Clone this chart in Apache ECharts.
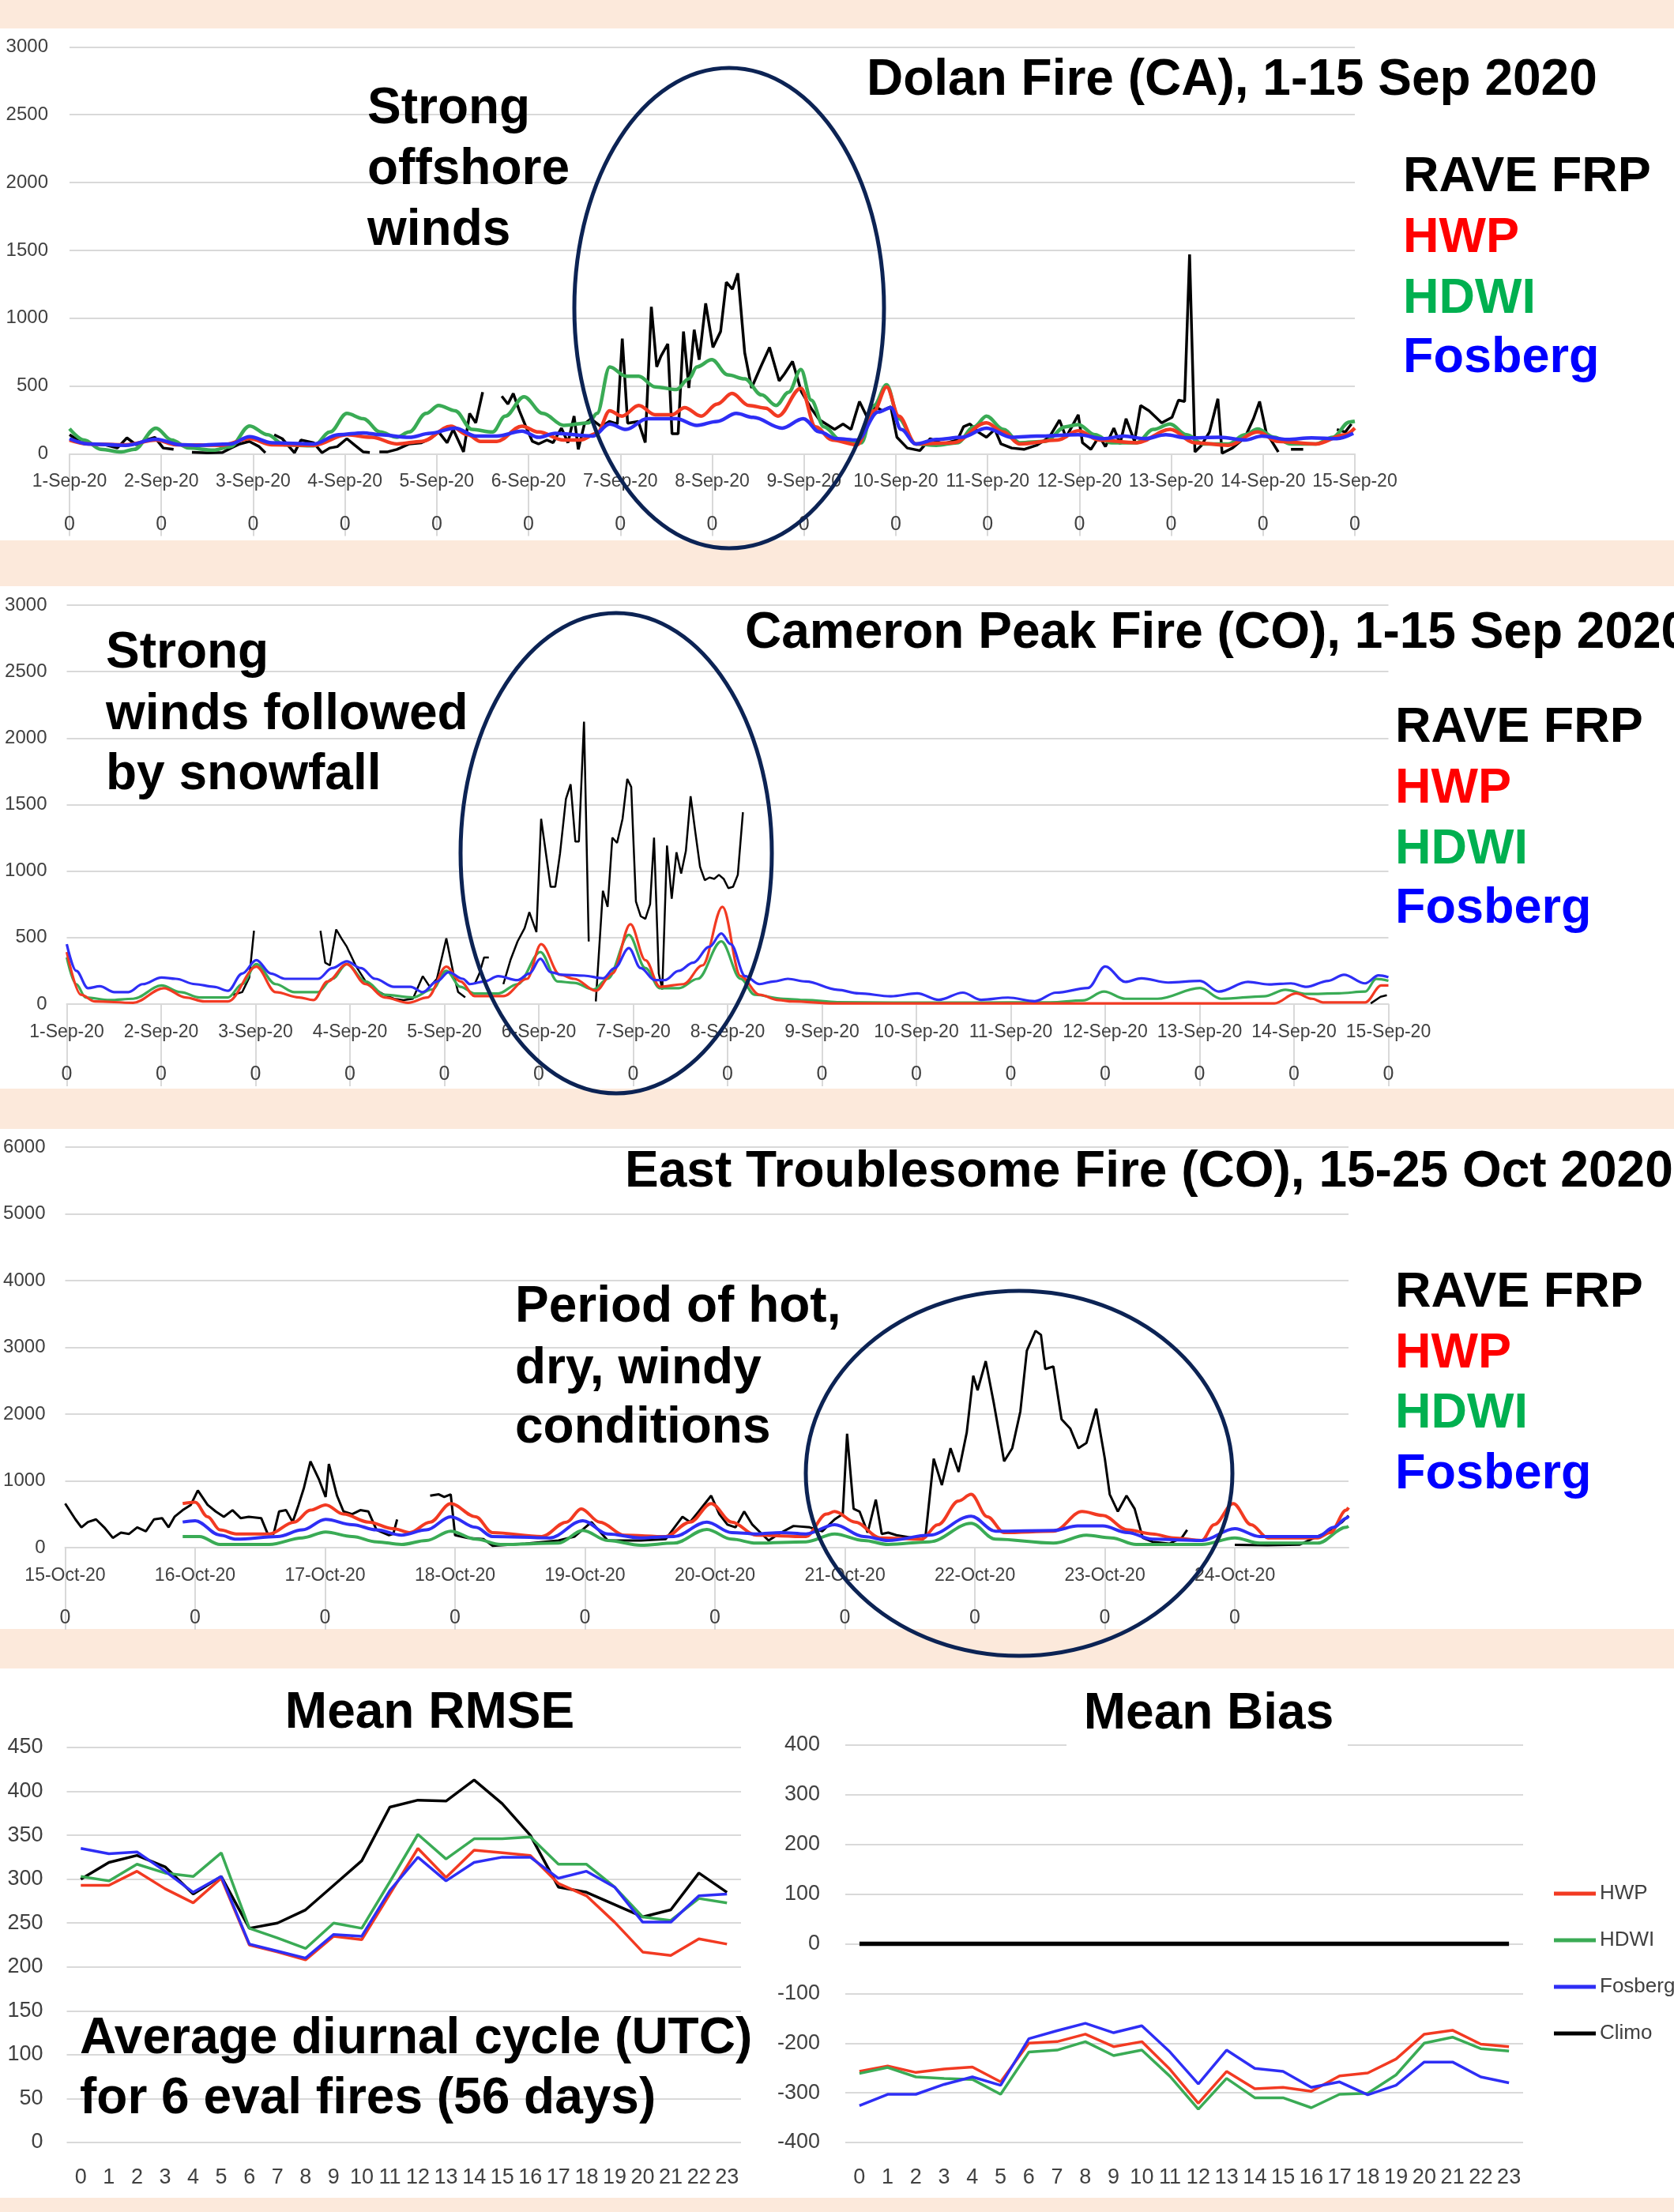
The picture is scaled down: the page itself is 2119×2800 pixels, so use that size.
<!DOCTYPE html>
<html><head><meta charset="utf-8">
<script src="https://cdn.jsdelivr.net/npm/echarts@6/dist/echarts.min.js"></script>
<style>html,body{margin:0;padding:0;background:#fff}#c{width:2119px;height:2800px}</style>
</head><body><div id="c"></div><script>
// ---------- Tick labels ----------
const sepDays = ['1-Sep-20','2-Sep-20','3-Sep-20','4-Sep-20','5-Sep-20','6-Sep-20','7-Sep-20','8-Sep-20','9-Sep-20','10-Sep-20','11-Sep-20','12-Sep-20','13-Sep-20','14-Sep-20','15-Sep-20'];
const octDays = ['15-Oct-20','16-Oct-20','17-Oct-20','18-Oct-20','19-Oct-20','20-Oct-20','21-Oct-20','22-Oct-20','23-Oct-20','24-Oct-20'];
const utcHours = ['0','1','2','3','4','5','6','7','8','9','10','11','12','13','14','15','16','17','18','19','20','21','22','23'];

// ---------- Dolan Fire (hours since 1 Sep 00UTC, value) ----------
const dolanFRP = [[0,141],[1.6,112],[3.8,102],[6,73],[9.3,67],[12.5,43],[15,118],[17.4,67],[20,102],[22.3,122],[24.5,43],[27.2,33],[29,'-'],[32,12],[36,8],[40,10],[42,40],[44.5,73],[47,92],[49.6,53],[51.2,8],[52.2,'-'],[53.5,141],[55.6,112],[58.8,8],[60.5,102],[63.8,82],[66,8],[68,43],[70,53],[72.5,112],[74.6,63],[76.8,14],[78.5,10],[79.5,'-'],[81,14],[83,14],[85.6,33],[88.8,73],[92,82],[94.3,112],[96.5,161],[98.7,82],[100.3,180],[103,14],[104.6,298],[106.2,229],[108,455],[110,'-'],[113,425],[114.6,367],[116,445],[117.6,318],[119.3,200],[121,92],[122.6,73],[124.8,102],[126.4,82],[128.6,190],[130.3,82],[131.9,278],[133,33],[134.6,220],[136.3,259],[139,200],[141.1,239],[143.2,220],[144.5,850],[145.9,226],[148.7,239],[150.5,83],[152.1,1084],[153.5,642],[154.6,720],[156.4,811],[157.5,148],[159.1,148],[160.5,902],[161.9,486],[163.3,915],[164.6,694],[166.3,1110],[168.2,785],[170.2,902],[171.7,1266],[173.3,1214],[174.7,1331],[176.5,746],[178.3,486],[180.7,642],[183,785],[185.5,538],[186.9,590],[189,681],[191.3,460],[194,330],[196,252],[200,180],[202.2,220],[204.3,180],[206.5,386],[208.7,259],[210.8,347],[212.5,318],[214.7,347],[216.3,122],[219,43],[222.3,24],[225,112],[228.3,73],[232.1,102],[233.7,200],[235.4,220],[237.5,161],[239.7,122],[241.9,180],[243.5,73],[246.3,43],[249.5,33],[252.8,63],[256.1,122],[258.8,249],[260.5,122],[263.7,288],[264.8,82],[267,33],[269.2,131],[270.8,53],[273,190],[274.6,73],[276.2,259],[278.4,92],[280,357],[282.2,318],[285.5,229],[288.2,269],[289.9,396],[291.5,386],[292.8,1470],[294.2,14],[295.9,63],[298,161],[300.2,406],[301.3,4],[304,43],[307.3,122],[309.5,259],[311.1,386],[312.8,161],[316,14],[317.5,'-'],[319.3,33],[322.5,33],[324,'-'],[331.3,180],[333.5,161],[335.1,220]];
const dolanHWP = [[0,102],[4.9,73],[14.7,67],[22.6,102],[27.8,67],[39.8,63],[47.1,112],[52.9,67],[63.8,63],[72.5,141],[79,122],[85.6,73],[92.1,92],[99.7,204],[104.1,141],[107.4,92],[111.7,92],[118.3,204],[122.6,161],[129.2,102],[133.5,102],[137.9,151],[141.2,318],[144.4,278],[148.8,357],[153.1,288],[157.5,288],[160.8,341],[165.1,278],[169.3,367],[173.2,445],[177.6,357],[182,337],[185.2,278],[191.2,484],[195,200],[199.4,102],[205.9,67],[210.3,318],[213.6,494],[216.8,278],[221.2,73],[231,82],[239.7,229],[244.1,161],[248.4,73],[258.3,102],[263.7,170],[269.2,102],[279,82],[287.7,180],[294.2,82],[302.9,63],[310.6,161],[316,92],[325.8,73],[333.4,141],[336,190]];
const dolanHDWI = [[0,186],[3.8,102],[8.2,33],[13.6,14],[16.9,33],[22.6,190],[26.7,102],[31.1,43],[37.6,27],[42,53],[47.1,206],[51.8,141],[56.1,67],[63.8,59],[68.1,161],[72.5,298],[76.8,259],[81.2,161],[85.6,122],[88.8,161],[93.2,298],[96.5,357],[100.8,318],[105.2,180],[110.6,161],[113.9,278],[118.8,421],[123.7,298],[129.2,210],[135.7,229],[137.9,298],[141.2,641],[145.5,572],[148.8,572],[153.1,494],[158.6,474],[161.9,553],[164,641],[167.9,694],[172.1,582],[176.5,553],[180.9,435],[184.7,357],[188,455],[191.2,621],[193.9,396],[197.2,200],[201.6,102],[207,82],[210.3,357],[213.6,510],[216.8,259],[221.2,73],[226.6,63],[232.1,82],[236.5,200],[239.7,278],[244.1,180],[248.4,82],[255,92],[260.4,200],[263.7,216],[268.1,141],[272.4,82],[279,82],[283.3,180],[287.7,220],[292,141],[296.4,73],[302.9,73],[307.3,141],[310.6,184],[315,122],[319.3,73],[325.8,73],[330.2,122],[334.6,235],[336,240]];
const dolanFosberg = [[0,112],[4.9,73],[14.7,63],[22.6,108],[28.9,67],[33.2,63],[42,73],[47.1,127],[52.9,82],[63.8,73],[70.3,141],[76.8,155],[81.2,141],[88.8,122],[94.3,151],[100.8,190],[106.3,131],[111.7,131],[118.3,167],[122.6,122],[127,151],[136.8,131],[141.2,220],[145.5,180],[151,259],[158.6,259],[164,210],[169.3,239],[174.3,298],[178.7,269],[186.3,190],[191.8,259],[196.1,161],[200.5,112],[205.9,102],[211.4,308],[214.7,341],[217.4,180],[221.2,73],[226.6,106],[233.2,122],[239.7,190],[246.3,122],[252.8,131],[263.7,141],[270.2,112],[275.7,131],[281.1,112],[286.6,141],[292,118],[300.8,122],[307.3,102],[311.7,131],[318.3,106],[324.7,118],[331.3,112],[335.6,151]];

// ---------- Cameron Peak Fire ----------
const cameronFRP = [[42.2,70],[44.6,90],[46.4,200],[47.6,551],[48.5,'-'],[64.5,551],[65.7,311],[66.9,291],[68.5,561],[69.9,491],[71.2,431],[73.6,281],[76,170],[78.4,110],[80.8,70],[83.2,40],[85.6,30],[88,40],[90.5,210],[92.3,130],[94.1,190],[96.5,495],[98.3,230],[99.5,90],[101.3,50],[102.2,'-'],[103.7,150],[104.9,230],[106.1,351],[107.3,351],[108.5,'-'],[111,150],[112.8,331],[114.6,471],[116.4,571],[117.6,691],[119.4,541],[120.6,1393],[123,882],[124.2,882],[125.4,1132],[126.9,1543],[128.1,1653],[129.3,1222],[130.2,1222],[131.5,2124],[132.7,471],[133.5,'-'],[134.5,20],[136.3,852],[137.5,731],[138.7,1252],[139.9,1212],[141.3,1393],[142.5,1693],[143.5,1633],[144.7,771],[145.9,661],[147.1,641],[148.3,751],[149.3,1252],[150.5,230],[151.4,110],[152.6,1192],[153.8,792],[155,1142],[156.2,982],[157.4,1152],[158.6,1563],[159.8,1293],[161,1032],[162.2,932],[163.4,952],[164.6,942],[165.8,972],[167,942],[168.2,872],[169.4,882],[170.6,972],[171.9,1443],[172.5,'-'],[331.5,5],[334,55],[335.6,67]];
const cameronHWP = [[0,391],[3.6,70],[7.2,20],[16.9,10],[24.7,120],[30.2,50],[35,20],[41,20],[48.2,281],[53.1,90],[59.1,50],[62.7,30],[66.3,170],[71.2,301],[76,150],[80.8,50],[86.8,10],[91.7,50],[96.5,281],[100.1,170],[103.7,60],[111,60],[117,190],[120.6,451],[125.4,220],[129,190],[134.5,100],[138.7,230],[143.3,601],[147.1,331],[150.8,130],[156.8,150],[161.6,291],[166.7,731],[171.3,210],[176.1,70],[180.9,30],[184.5,20],[195,5],[250,5],[307,5],[312.5,81],[316.6,40],[319.3,13],[330.1,13],[334.2,140],[336,140]];
const cameronHDWI = [[0,351],[2.4,150],[4.8,50],[10.9,30],[16.9,40],[24.1,140],[28.9,90],[33.8,50],[41,50],[44.6,150],[48.2,301],[53.1,150],[57.9,90],[63.9,90],[67.5,190],[71.2,301],[76,170],[80.8,70],[88,50],[92.9,110],[96.5,250],[100.1,130],[103.7,80],[109.7,80],[114.6,150],[120.4,391],[124.8,170],[129,160],[133.9,110],[137.5,190],[142.9,521],[147.1,271],[150.8,120],[155.6,120],[160.4,190],[166.4,471],[171.3,190],[174.9,70],[182.1,40],[187.9,30],[195.9,15],[210,12],[230,12],[250,13],[258.3,27],[263.7,94],[269.1,40],[277.3,40],[288.1,121],[293.5,40],[304.4,59],[309.8,108],[315.2,76],[323.4,81],[330.1,94],[332.9,189],[336,175]];
const cameronFosberg = [[0,451],[2.4,250],[5.4,120],[8.4,134],[12.1,90],[15.7,90],[19.3,150],[24.1,200],[27.7,190],[32.6,150],[37.4,130],[41,100],[44.6,230],[48.2,331],[51.9,230],[55.5,190],[63.9,190],[67.5,271],[71.2,321],[74.8,271],[78.4,190],[83.2,130],[87.4,130],[90.5,90],[94.1,170],[97.1,240],[100.7,190],[102.5,150],[106.1,170],[109.7,210],[114.6,180],[117.6,230],[120.4,341],[123,240],[126,220],[131.5,214],[136.3,194],[139.3,271],[142.9,421],[145.9,271],[149.5,180],[152,180],[155.6,250],[159.2,311],[163.4,431],[166.4,531],[168.8,451],[172.5,210],[176.1,150],[179.7,170],[183.3,190],[187.9,170],[195.9,108],[201.3,81],[209.5,59],[216.2,81],[221.7,32],[227.8,86],[232.5,32],[239.3,49],[246.1,22],[251.5,86],[259.6,121],[264,283],[269.1,167],[273.2,194],[280,162],[288.1,175],[292.9,94],[300.3,167],[305.7,148],[311.2,156],[315.2,130],[320.7,175],[324.7,221],[330.1,156],[333.5,216],[336,202]];

// ---------- East Troublesome Fire (hours since 15 Oct 00UTC) ----------
const troubleFRP = [[0,660],[1.9,423],[3,304],[4.2,383],[5.7,423],[7.2,304],[8.8,146],[10.3,225],[11.8,205],[13.3,304],[14.9,245],[16.4,423],[17.9,442],[19.1,304],[20.2,462],[21.7,561],[23.2,640],[24.5,857],[26.3,640],[27.8,541],[29.3,462],[30.9,561],[32.4,442],[33.9,462],[36.2,442],[37.4,205],[38.5,205],[39.5,541],[40.8,561],[42,383],[43.1,640],[44.1,897],[45.3,1292],[46.9,1015],[48.1,758],[48.7,1252],[50.2,778],[51.4,541],[53,502],[54.5,561],[56,541],[57.5,265],[59.8,186],[60.6,205],[61.3,423],[62,'-'],[67.4,778],[69,798],[70,758],[71.2,798],[72,186],[74.3,146],[77.3,126],[78.9,28],[85,60],[91.1,107],[94.1,166],[97.2,383],[100.2,107],[106.3,107],[110.9,126],[114,462],[115.4,383],[117,541],[119.3,778],[120.8,502],[122.3,344],[123.8,304],[125.4,541],[126.9,344],[128.4,225],[129.9,107],[132.2,225],[134.5,324],[137.5,304],[139.8,245],[142.1,423],[143.6,502],[144.4,1706],[145.6,581],[146.7,541],[148.2,225],[149.7,719],[150.8,205],[152,225],[153.5,186],[156.6,146],[158.9,186],[160.4,1331],[161.9,936],[163.5,1489],[165,1134],[166.5,1726],[167.7,2575],[168.5,2358],[170,2793],[171.5,2161],[173.4,1292],[174.9,1489],[176.4,2042],[177.6,2951],[179.2,3247],[180.2,3188],[181,2674],[182.5,2714],[184,1924],[185.6,1785],[187.1,1489],[188.6,1568],[190.4,2082],[192,1331],[192.9,798],[194.4,541],[196,778],[197.5,581],[199,146],[200.8,87],[203.9,59],[206.2,146],[207.2,265],[208,'-'],[216,40],[222,35],[228,45],[232.8,225],[235.8,383],[237,480]];
const troubleHWP = [[21.7,660],[24,680],[26.3,462],[28.6,265],[31.6,205],[37.7,205],[42.3,383],[45.3,561],[48.1,640],[51.4,502],[56,383],[60.6,284],[63.6,225],[67.4,383],[71.2,660],[75.8,462],[78.9,225],[88,166],[92.6,383],[95.3,581],[98.7,383],[103.3,186],[110.9,166],[115.4,383],[119.3,660],[123.1,383],[127.6,186],[136.8,166],[140.6,502],[142.1,541],[145.9,383],[150.5,146],[158.1,126],[161.2,344],[165,699],[167.3,798],[170.3,462],[173.4,225],[182.5,245],[187.8,541],[191.6,482],[196.2,265],[200.8,205],[204.6,146],[209.9,107],[212.2,344],[215.7,660],[219,344],[222.1,146],[231.3,146],[233.6,225],[236.6,561],[237,600]];
const troubleHDWI = [[21.7,166],[24.8,166],[28.6,47],[37.7,47],[43.8,146],[48.1,233],[53,166],[57.5,87],[62.1,47],[66.7,107],[71.2,245],[75.8,126],[80.4,47],[91.1,67],[95.6,257],[100.2,107],[106.3,36],[112.4,67],[118.5,273],[123.1,126],[127.6,67],[136.8,87],[142.1,205],[147.5,107],[152,47],[159.6,87],[167.3,363],[171.8,126],[182.5,67],[188.6,186],[193.2,146],[197.8,47],[209.9,47],[216,146],[220.6,67],[231.3,67],[236.6,304],[237,320]];
const troubleFosberg = [[21.7,383],[24,403],[28.6,186],[31.6,126],[39.2,166],[43.8,265],[48.1,423],[53,344],[57.5,265],[62.1,186],[66.7,265],[71.2,462],[75.8,304],[78.9,166],[89.5,146],[95.6,403],[100.2,205],[106.3,146],[112.4,166],[118.5,383],[123.1,225],[127.6,205],[132.2,225],[136.8,205],[142.1,344],[147.5,166],[152,107],[159.6,186],[167.3,470],[171.8,245],[182.5,257],[187,324],[191.6,324],[196.2,225],[200.8,126],[209.9,107],[216,284],[220.6,166],[231.3,166],[234.3,304],[236.6,442],[237,470]];

// ---------- Average diurnal cycle (UTC) ----------
const rmseHWP     = [293,293,309,289,273,301,225,217,208,235,231,283,335,302,333,330,327,295,281,251,217,213,232,226];
const rmseHDWI    = [303,298,317,307,303,330,244,233,221,250,244,297,351,323,346,346,348,317,317,291,257,253,278,273];
const rmseFosberg = [335,329,331,309,285,303,226,218,210,237,235,287,325,298,319,325,325,301,309,291,251,251,281,283];
const rmseClimo   = [300,319,327,314,283,303,244,250,265,293,321,382,390,389,413,386,350,291,285,271,257,265,307,285];
const biasHWP     = [-257,-246,-259,-252,-248,-278,-200,-197,-182,-207,-197,-253,-321,-257,-292,-289,-297,-266,-260,-232,-182,-174,-202,-207];
const biasHDWI    = [-261,-249,-268,-271,-273,-303,-218,-214,-197,-225,-214,-267,-333,-271,-310,-310,-330,-303,-301,-264,-200,-188,-211,-216];
const biasFosberg = [-326,-303,-303,-283,-268,-285,-191,-175,-160,-179,-165,-218,-282,-214,-251,-257,-289,-278,-304,-285,-238,-238,-268,-280];
const biasClimo   = [0,0,0,0,0,0,0,0,0,0,0,0,0,0,0,0,0,0,0,0,0,0,0,0];

// ---------- styling ----------
const FONT = '"Liberation Sans", Arial, sans-serif';
const GRIDC = '#d9d9d9';
const LBL = '#404040';
const PEACH = '#fce9db';
const NAVY = '#0c2354';
const C_RED = '#f23a22', C_GREEN = '#3aab55', C_BLUE = '#2e2ef5', C_BLACK = '#000000';

function dayAxes(gi, maxH, days) {
  const ticks = days.map((d, i) => i * 24);
  return [
    { type: 'value', gridIndex: gi, min: 0, max: maxH, interval: 24,
      axisLine: { show: true, lineStyle: { color: GRIDC, width: 2 } },
      axisTick: { show: true, length: 104, customValues: ticks, lineStyle: { color: GRIDC, width: 2 } },
      axisLabel: { customValues: ticks, formatter: v => days[Math.round(v / 24)] || '', margin: 24,
        fontSize: 23, color: LBL, fontFamily: FONT },
      splitLine: { show: false } },
    { type: 'value', gridIndex: gi, min: 0, max: maxH, interval: 24, position: 'bottom',
      axisLine: { show: false }, axisTick: { show: false }, splitLine: { show: false },
      axisLabel: { customValues: ticks, formatter: () => '0', margin: 77, fontSize: 25, color: LBL, fontFamily: FONT } }
  ];
}
function yVal(gi, min, max, interval, margin, fontSize) {
  return { type: 'value', gridIndex: gi, min, max, interval,
    axisLine: { show: false }, axisTick: { show: false },
    splitLine: { lineStyle: { color: GRIDC, width: 2 } },
    axisLabel: { formatter: v => String(v), margin, fontSize, color: LBL, fontFamily: FONT } };
}
function catAxis(gi) {
  return { type: 'category', gridIndex: gi, data: utcHours, boundaryGap: true,
    axisLine: { show: false }, axisTick: { show: false },
    axisLabel: { interval: 0, margin: 31, fontSize: 27, color: LBL, fontFamily: FONT } };
}
function ln(name, data, xi, yi, color, width, smooth) {
  return { name, type: 'line', data, xAxisIndex: xi, yAxisIndex: yi, color,
    showSymbol: false, symbol: 'none', connectNulls: false,
    smooth: smooth ? 0.35 : false, smoothMonotone: 'x',
    lineStyle: { color, width }, emphasis: { disabled: true } };
}
function bigText(text, x, y, color, align, size) {
  return { type: 'text', z: 100, style: { text, x, y, fill: color,
    font: 'bold ' + (size || 64) + 'px ' + FONT, align: align || 'left', verticalAlign: 'middle' } };
}
function band(y, h) { return { type: 'rect', z: 0, shape: { x: 0, y, width: 2119, height: h }, style: { fill: PEACH } }; }
function ell(cx, cy, rx, ry) { return { type: 'ellipse', z: 110, shape: { cx, cy, rx, ry }, style: { fill: 'rgba(0,0,0,0)', stroke: NAVY, lineWidth: 5 } }; }

const chart = echarts.init(document.getElementById('c'), null, { renderer: 'canvas', width: 2119, height: 2800 });

const option = {
  animation: false,
  backgroundColor: '#ffffff',
  grid: [
    { left: 88, top: 59.4, width: 1627, height: 515.1 },
    { left: 84.5, top: 766, width: 1673, height: 505 },
    { left: 82.5, top: 1452, width: 1624.5, height: 507 },
    { left: 84.5, top: 2212, width: 853.5, height: 500 },
    { left: 1070, top: 2209, width: 858, height: 503 }
  ],
  xAxis: [
    ...dayAxes(0, 336, sepDays),
    ...dayAxes(1, 336, sepDays),
    ...dayAxes(2, 237, octDays),
    catAxis(3),
    catAxis(4)
  ],
  yAxis: [
    yVal(0, 0, 3000, 500, 27, 24),
    yVal(1, 0, 3000, 500, 25, 24),
    yVal(2, 0, 6000, 1000, 25, 24),
    yVal(3, 0, 450, 50, 30, 27),
    yVal(4, -400, 400, 100, 32, 27)
  ],
  legend: { data: ['HWP', 'HDWI', 'Fosberg', 'Climo'], orient: 'vertical', left: 1967, top: 2384,
    itemWidth: 53, itemHeight: 5, itemGap: 33, icon: 'rect', selectedMode: false, padding: 0,
    textStyle: { fontSize: 26, color: LBL, fontFamily: FONT } },
  series: [
    ln('Dolan RAVE FRP', dolanFRP, 0, 0, C_BLACK, 3.5, false),
    ln('Dolan HDWI', dolanHDWI, 0, 0, C_GREEN, 4.5, true),
    ln('Dolan HWP', dolanHWP, 0, 0, C_RED, 4.5, true),
    ln('Dolan Fosberg', dolanFosberg, 0, 0, C_BLUE, 4.5, true),

    ln('Cameron RAVE FRP', cameronFRP, 2, 1, C_BLACK, 2.5, false),
    ln('Cameron HDWI', cameronHDWI, 2, 1, C_GREEN, 3.2, true),
    ln('Cameron HWP', cameronHWP, 2, 1, C_RED, 3.2, true),
    ln('Cameron Fosberg', cameronFosberg, 2, 1, C_BLUE, 3.2, true),

    ln('Troublesome RAVE FRP', troubleFRP, 4, 2, C_BLACK, 3, false),
    ln('Troublesome HDWI', troubleHDWI, 4, 2, C_GREEN, 4, true),
    ln('Troublesome HWP', troubleHWP, 4, 2, C_RED, 4, true),
    ln('Troublesome Fosberg', troubleFosberg, 4, 2, C_BLUE, 4, true),

    ln('RMSE Climo', rmseClimo, 6, 3, C_BLACK, 3.5, false),
    ln('RMSE HDWI', rmseHDWI, 6, 3, C_GREEN, 3.5, false),
    ln('RMSE HWP', rmseHWP, 6, 3, C_RED, 3.5, false),
    ln('RMSE Fosberg', rmseFosberg, 6, 3, C_BLUE, 3.5, false),

    ln('HWP', biasHWP, 7, 4, C_RED, 3.5, false),
    ln('HDWI', biasHDWI, 7, 4, C_GREEN, 3.5, false),
    ln('Fosberg', biasFosberg, 7, 4, C_BLUE, 3.5, false),
    ln('Climo', biasClimo, 7, 4, C_BLACK, 5.5, false)
  ],
  graphic: [
    band(0, 36), band(684, 58), band(1378, 51), band(2062, 50), band(2782, 18),
    // Mean Bias title box hides the top gridline
    { type: 'rect', z: 50, shape: { x: 1350, y: 2114, width: 356, height: 100 }, style: { fill: '#ffffff' } },

    bigText('Dolan Fire (CA), 1-15 Sep 2020', 1097, 102, '#000'),
    bigText('Strong', 465, 138, '#000'), bigText('offshore', 465, 215, '#000'), bigText('winds', 465, 292, '#000'),
    bigText('RAVE FRP', 1776, 225, '#000', 'left', 63), bigText('HWP', 1776, 302, '#ff0000', 'left', 63),
    bigText('HDWI', 1776, 379, '#00b050', 'left', 63), bigText('Fosberg', 1776, 454, '#0000ff', 'left', 63),

    bigText('Cameron Peak Fire (CO), 1-15 Sep 2020', 943, 802, '#000'),
    bigText('Strong', 134, 827, '#000'), bigText('winds followed', 134, 905, '#000'), bigText('by snowfall', 134, 981, '#000'),
    bigText('RAVE FRP', 1766, 922, '#000', 'left', 63), bigText('HWP', 1766, 999, '#ff0000', 'left', 63),
    bigText('HDWI', 1766, 1076, '#00b050', 'left', 63), bigText('Fosberg', 1766, 1151, '#0000ff', 'left', 63),

    bigText('East Troublesome Fire (CO), 15-25 Oct 2020', 791, 1484, '#000'),
    bigText('Period of hot,', 652, 1655, '#000'), bigText('dry, windy', 652, 1733, '#000'), bigText('conditions', 652, 1808, '#000'),
    bigText('RAVE FRP', 1766, 1637, '#000', 'left', 63), bigText('HWP', 1766, 1714, '#ff0000', 'left', 63),
    bigText('HDWI', 1766, 1790, '#00b050', 'left', 63), bigText('Fosberg', 1766, 1867, '#0000ff', 'left', 63),

    bigText('Mean RMSE', 544, 2169, '#000', 'center'),
    bigText('Mean Bias', 1530, 2170, '#000', 'center'),
    bigText('Average diurnal cycle (UTC)', 101, 2581, '#000'),
    bigText('for 6 eval fires (56 days)', 101, 2657, '#000'),

    ell(923, 390, 196, 304),
    ell(780, 1080, 197, 304),
    ell(1290, 1865, 270, 231)
  ]
};
chart.setOption(option);
</script></body></html>
